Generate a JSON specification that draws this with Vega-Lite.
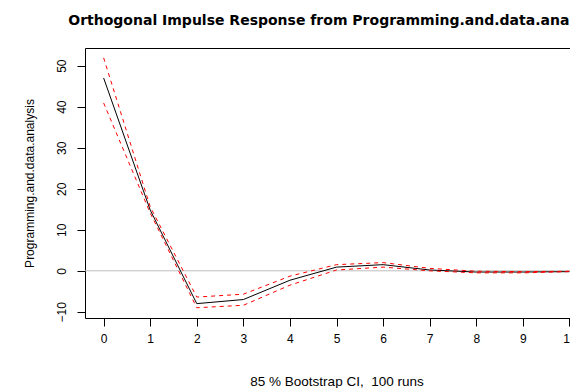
{
  "$schema": "https://vega.github.io/schema/vega-lite/v6.json",
  "autosize": {"type": "none"},
  "padding": {"left": 85, "top": 48, "right": 0, "bottom": 70},
  "width": 503,
  "height": 270,
  "background": "white",
  "title": {
    "text": "Orthogonal Impulse Response from Programming.and.data.analysis",
    "font": "DejaVu Sans",
    "fontSize": 14,
    "fontWeight": "bold",
    "color": "black",
    "anchor": "middle",
    "frame": "group",
    "offset": 20
  },
  "config": {
    "view": {"stroke": "black", "strokeWidth": 1},
    "axis": {
      "labelFont": "Liberation Sans",
      "titleFont": "Liberation Sans",
      "labelFontSize": 12,
      "titleFontSize": 12,
      "titleFontWeight": "normal",
      "labelColor": "black",
      "titleColor": "black",
      "tickColor": "black",
      "grid": false,
      "domain": false,
      "tickSize": 8
    }
  },
  "datasets": {
    "irf": [
      {"h": 0, "series": "irf", "v": 47.0},
      {"h": 1, "series": "irf", "v": 14.8},
      {"h": 2, "series": "irf", "v": -8.0},
      {"h": 3, "series": "irf", "v": -7.0},
      {"h": 4, "series": "irf", "v": -2.3},
      {"h": 5, "series": "irf", "v": 0.9},
      {"h": 6, "series": "irf", "v": 1.5},
      {"h": 7, "series": "irf", "v": 0.2},
      {"h": 8, "series": "irf", "v": -0.3},
      {"h": 9, "series": "irf", "v": -0.3},
      {"h": 10, "series": "irf", "v": -0.2}
    ],
    "ci": [
      {"h": 0, "series": "upper", "v": 51.9},
      {"h": 1, "series": "upper", "v": 15.6},
      {"h": 2, "series": "upper", "v": -6.4},
      {"h": 3, "series": "upper", "v": -5.7},
      {"h": 4, "series": "upper", "v": -1.3},
      {"h": 5, "series": "upper", "v": 1.5},
      {"h": 6, "series": "upper", "v": 2.0},
      {"h": 7, "series": "upper", "v": 0.6},
      {"h": 8, "series": "upper", "v": -0.1},
      {"h": 9, "series": "upper", "v": -0.2},
      {"h": 10, "series": "upper", "v": -0.1},
      {"h": 0, "series": "lower", "v": 40.9},
      {"h": 1, "series": "lower", "v": 14.1},
      {"h": 2, "series": "lower", "v": -9.0},
      {"h": 3, "series": "lower", "v": -8.4},
      {"h": 4, "series": "lower", "v": -3.5},
      {"h": 5, "series": "lower", "v": 0.2},
      {"h": 6, "series": "lower", "v": 0.9},
      {"h": 7, "series": "lower", "v": 0.0},
      {"h": 8, "series": "lower", "v": -0.5},
      {"h": 9, "series": "lower", "v": -0.5},
      {"h": 10, "series": "lower", "v": -0.2}
    ],
    "zero": [{"v": 0}]
  },
  "layer": [
    {
      "data": {"name": "zero"},
      "mark": {"type": "rule", "color": "#bebebe", "strokeWidth": 1},
      "encoding": {
        "y": {"field": "v", "type": "quantitative", "scale": {"domain": [-11.5, 54.3], "nice": false, "zero": false}}
      }
    },
    {
      "data": {"name": "irf"},
      "mark": {"type": "line", "color": "black", "strokeWidth": 1},
      "encoding": {
        "x": {
          "field": "h", "type": "quantitative",
          "scale": {"domain": [-0.4, 10.4], "nice": false, "zero": false},
          "axis": {
            "values": [0, 1, 2, 3, 4, 5, 6, 7, 8, 9, 10],
            "format": "d",
            "labelPadding": 7,
            "labelFlush": false,
            "labelOverlap": false,
            "title": "85 % Bootstrap CI,\u00a0 100 runs",
            "titleFontSize": 13.5,
            "titlePadding": 30
          }
        },
        "y": {
          "field": "v", "type": "quantitative",
          "scale": {"domain": [-11.5, 54.3], "nice": false, "zero": false},
          "axis": {
            "values": [-10, 0, 10, 20, 30, 40, 50],
            "labelAngle": -90,
            "labelAlign": "center",
            "labelBaseline": "bottom",
            "labelPadding": 9,
            "labelFlush": false,
            "labelOverlap": false,
            "title": "Programming.and.data.analysis",
            "titleX": -56,
            "titleY": 135,
            "titleAlign": "center",
            "titleBaseline": "middle",
            "titleAngle": -90
          }
        }
      }
    },
    {
      "data": {"name": "ci"},
      "mark": {"type": "line", "color": "red", "strokeWidth": 1, "strokeDash": [4, 4]},
      "encoding": {
        "x": {"field": "h", "type": "quantitative"},
        "y": {"field": "v", "type": "quantitative"},
        "detail": {"field": "series"}
      }
    }
  ]
}
